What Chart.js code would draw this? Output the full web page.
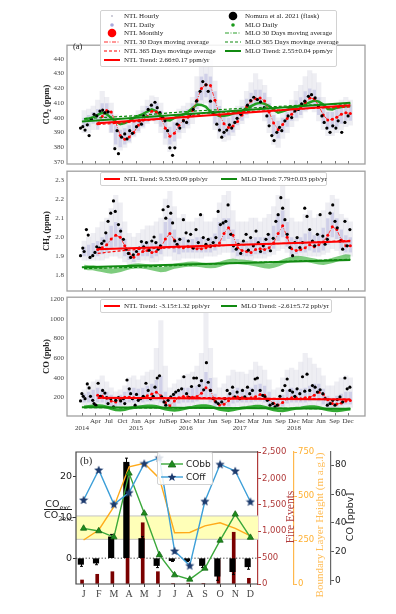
<!DOCTYPE html>
<html>
<head>
<meta charset="utf-8">
<title>NTL vs MLO greenhouse gases</title>
<script src="https://cdn.jsdelivr.net/npm/chart.js@4.4.1/dist/chart.umd.min.js"></script>
<style>
  html, body { margin: 0; padding: 0; background: #fff; }
  body { position: relative; width: 396px; height: 614px; overflow: hidden; font-family: 'Liberation Serif', 'DejaVu Serif', serif; color: #222; }
  canvas { position: absolute; left: 0; }
  .box { position: absolute; background: rgba(255,255,255,0.85); border: 1px solid #d2d2d2; border-radius: 2px; box-sizing: border-box; }
  .row { position: absolute; display: flex; align-items: center; white-space: nowrap; }
  .row svg { flex: none; margin-right: 3px; }
  .lab { position: absolute; white-space: nowrap; }
  .vlab { position: absolute; white-space: nowrap; transform: translate(-50%, -50%) rotate(-90deg); }
</style>
</head>
<body>
<canvas id="co2Chart" width="396" height="134" style="top:38px"></canvas>
<canvas id="ch4Chart" width="396" height="135" style="top:164px"></canvas>
<canvas id="coChart" width="396" height="150" style="top:290px"></canvas>
<canvas id="monthChart" width="396" height="155" style="top:445px"></canvas>

<div id="legendA" class="box" style="left:100px;top:10px;width:237px;height:57px;font-size:7px"></div>
<div id="legendCH4" class="box" style="left:100px;top:172px;width:227px;height:14px;font-size:7px"></div>
<div id="legendCO" class="box" style="left:100px;top:299px;width:232px;height:14px;font-size:7px"></div>
<div id="legendB" class="box" style="left:157px;top:452px;width:56px;height:33px;font-family:'DejaVu Sans',sans-serif;font-size:9px"></div>

<div class="lab" style="left:73px;top:41px;font-size:8.5px">(a)</div>
<div class="lab" style="left:80px;top:455px;font-size:10.5px">(b)</div>
<div class="lab" style="left:44px;top:499px;width:28px;text-align:center;font-family:'DejaVu Sans',sans-serif;font-size:9.5px;line-height:10px">
  <div style="border-bottom:1px solid #222">CO<sub style="font-size:6.5px;line-height:0">exc</sub></div>
  <div>CO<sub style="font-size:6.5px;line-height:0">2exc</sub></div>
</div>
<div class="vlab" style="left:290px;top:517px;font-size:11.5px;color:#b03a3a">Fire Events</div>
<div class="vlab" style="left:319px;top:525px;font-size:11px;color:#ffbc55">Boundary Layer Height (m a.g.l)</div>
<div class="vlab" style="left:349px;top:517px;font-family:'DejaVu Sans',sans-serif;font-size:9.5px;color:#222">CO [ppbv]</div>

<script>
// ---- shared time axis (months since Jan 2014) ----
const MONTHS = [0.5,1.5,2.5,3.5,4.5,5.5,6.5,7.5,8.5,9.5,10.5,11.5,12.5,13.5,14.5,15.5,16.5,17.5,18.5,19.5,
  20.5,21.5,22.5,23.5,24.5,25.5,26.5,27.5,28.5,29.5,30.5,31.5,32.5,33.5,34.5,35.5,36.5,37.5,38.5,39.5,
  40.5,41.5,42.5,43.5,44.5,45.5,46.5,47.5,48.5,49.5,50.5,51.5,52.5,53.5,54.5,55.5,56.5,57.5,58.5,59.5];
const X_TICKS = [0,3,6,9,12,15,18,20,23,26,29,32,35,38,41,44,47,50,53,56,59];
const X_LABELS = [['','2014'],['Apr',''],['Jul',''],['Oct',''],['Jan','2015'],['Apr',''],['Jul',''],['Sep',''],
  ['Dec','2016'],['Mar',''],['Jun',''],['Sep',''],['Dec','2017'],['Mar',''],['Jun',''],['Sep',''],
  ['Dec','2018'],['Mar',''],['Jun',''],['Sep',''],['Dec','']];
const CO2_TICKS = [370,380,390,400,410,420,430,440];
const CH4_TICKS = [1.8,1.9,2.0,2.1,2.2,2.3];
const CO_TICKS = [200,400,600,800,1000,1200];

// ---- CO2 (ppm) ----
const co2HourlyLo = [390,390,392,395,398,396,390,380,378,380,383,387, 390,393,396,398,396,390,382,377,380,386,390,393,
  396,402,408,410,402,392,386,384,385,388,392,396, 400,404,406,404,398,390,382,380,386,390,394,398,
  400,404,406,404,398,392,388,388,390,392,394,395];
const co2HourlyHi = [405,406,408,412,418,414,410,402,398,397,399,402, 405,408,412,415,414,410,404,398,402,406,408,410,
  414,428,440,446,440,425,412,405,402,404,408,412, 418,424,430,426,422,414,404,400,404,408,412,418,
  422,428,432,430,424,414,408,408,410,412,414,412];
const co2DailyLo = [394,394,396,392,396,398,390,382,380,382,384,388, 391,394,397,399,398,394,386,382,384,390,393,395,
  400,406,412,414,406,396,390,387,388,390,395,398, 402,406,408,408,404,396,388,386,390,394,398,400,
  402,405,408,407,402,396,392,393,394,396,398,398];
const co2DailyHi = [400,402,404,406,410,410,405,395,392,393,395,399, 402,405,408,410,410,405,398,394,397,402,405,406,
  410,418,428,430,428,418,408,402,400,402,405,408, 413,417,419,419,417,410,402,398,400,404,408,412,
  414,418,420,419,414,408,404,404,406,408,410,409];
const co2NtlMonthly = [null,null,null,396,401,405,404,397,388,385.5,387,390, 395,398.5,401,404.5,404,400,393,387.5,389.5,395,398.5,400.5,
  405,412,420,422.5,422,412,402,396,393.5,394.5,397.5,402, 407.5,411.5,413,413.5,411.5,404,396.5,392,395.5,399.5,402.5,405.5,
  407,410.5,413.5,413,408,402,398.5,399,400.5,402.5,403.5,403];
const co2Ntl365T = [3.5,9,15,21,27,33,39,45,51,57,59.5];
const co2Ntl365V = [395.5,396.5,398.5,400,403,404,404.5,405.5,406.5,407,407.5];
const co2NtlTrendT = [3.5,59.5];
const co2NtlTrendV = [396.3,408.5];
const co2MloDaily = [399,399.5,400.5,402,403.5,402.5,400,397.5,395.8,396.5,398,400, 401.3,402.5,404.3,405.7,404.5,401.5,398.5,398.3,400,401.2,402.3,404,
  406.5,409,408.8,407.5,404,402.5,401.3,401.5,402,403,403.8,404.6, 406.5,408,409.5,410.2,409.5,408,405.5,403.5,404.4,405.5,406.5,407.5,
  408.5,409.2,410.5,411.7,411,409,406,405.7,406.9,407.3,407.8,408];
const co2Mlo365T = [0.5,12,24,36,48,59.5];
const co2Mlo365V = [399.5,401.5,404.5,406.5,408.5,409.5];
const co2MloTrendT = [0,59.5];
const co2MloTrendV = [397.5,410.2];
const co2FlaskT = [-0.3,0.2,0.7,1.2,1.6,2.1,2.7,3.3,4,4.6,5.1,5.8,7.3,8.1,7.8,8.8,9.5,10,10.6,11.2,12.1,12.7,13.2,13.7,14.7,
  15.4,16.2,16.7,17.3,17.9,18.4,19,19.5,20.1,20.6,21.1,21.7,22.5,23.2,24,24.7,25.4,26.2,26.8,27.5,28,28.5,29.1,29.9,30.5,
  31,31.5,32.1,32.7,33.2,33.9,34.4,35.2,35.9,36.7,37.4,38.1,38.9,39.6,40.4,41,41.5,42.1,42.6,43.2,43.8,44.3,45,45.7,46.5,
  47.2,48,48.7,49.4,50.2,50.9,51.7,52.4,53.2,53.7,54.3,55,55.6,56.3,56.8,57.6,58.3,59];
const co2FlaskV = [393.1,394,391.7,395.3,388,399,402.4,401.3,404.6,405.3,403.5,404,379.1,375.7,391.3,386.9,389.1,385.7,391.3,389.5,
  394,398,395.7,401.3,405.7,408.6,410.6,406.9,403.5,400.2,398,391.3,379.7,374.6,379.7,395.7,393.1,398,396.9,402.4,
  405.7,411.3,418,424.6,422.4,418,411.3,403.5,395.7,391.7,386.9,390.2,391.7,395.3,393.1,396.9,399.7,402.4,404.6,408.6,
  411.7,414,412.4,410.9,406.9,401.3,394.6,388,384.6,390.2,393.5,391.3,398,401.3,400.2,404.6,405.7,409.5,411.3,414.6,
  415.7,413.5,408,401.3,396.9,393.1,390.2,394.6,393.1,398,390.2,396.9,401.3];

// ---- CH4 (ppm) ----
const ch4HourlyLo = [1.88,1.88,1.88,1.88,1.88,1.89,1.9,1.9,1.89,1.87,1.86,1.86, 1.87,1.88,1.88,1.87,1.87,1.88,1.9,1.9,1.88,1.88,1.89,1.89,
  1.89,1.89,1.89,1.9,1.9,1.9,1.91,1.92,1.92,1.89,1.88,1.88, 1.88,1.88,1.89,1.89,1.89,1.9,1.91,1.93,1.94,1.92,1.89,1.89,
  1.9,1.9,1.9,1.9,1.9,1.91,1.92,1.94,1.93,1.91,1.9,1.9];
const ch4HourlyHi = [1.98,2.0,2.02,2.05,2.08,2.1,2.15,2.22,2.18,2.08,2.02,2.0, 2.02,2.04,2.06,2.06,2.08,2.1,2.2,2.24,2.16,2.1,2.12,2.08,
  2.08,2.1,2.12,2.08,2.08,2.1,2.18,2.22,2.24,2.14,2.08,2.08, 2.08,2.1,2.1,2.08,2.1,2.12,2.16,2.22,2.28,2.2,2.1,2.08,
  2.08,2.12,2.14,2.1,2.12,2.14,2.18,2.22,2.2,2.12,2.1,2.08];
const ch4DailyLo = [1.9,1.9,1.9,1.9,1.91,1.92,1.94,1.95,1.93,1.9,1.88,1.87, 1.88,1.9,1.9,1.89,1.9,1.91,1.94,1.95,1.92,1.91,1.92,1.92,
  1.92,1.92,1.92,1.92,1.92,1.93,1.95,1.98,1.99,1.92,1.9,1.9, 1.9,1.9,1.91,1.91,1.91,1.92,1.94,1.98,2.0,1.95,1.91,1.91,
  1.92,1.92,1.93,1.92,1.92,1.93,1.96,2.0,1.99,1.94,1.92,1.92];
const ch4DailyHi = [1.95,1.96,1.97,1.98,2.0,2.02,2.06,2.08,2.05,1.99,1.95,1.93, 1.95,1.97,1.98,1.97,1.98,2.02,2.08,2.1,2.04,2.0,2.0,1.99,
  1.99,2.0,2.0,1.99,2.0,2.02,2.08,2.1,2.1,2.04,1.99,1.98, 1.98,1.99,2.0,2.0,2.0,2.02,2.06,2.12,2.14,2.08,2.0,1.99,
  2.0,2.02,2.03,2.01,2.02,2.05,2.1,2.13,2.1,2.04,2.01,2.0];
const ch4NtlMonthly = [null,null,null,1.935,1.945,1.96,1.99,2.01,2.0,1.955,1.915,1.895, 1.91,1.925,1.93,1.92,1.925,1.945,1.99,2.02,1.985,1.95,1.945,1.95,
  1.945,1.94,1.94,1.945,1.95,1.955,1.97,2.02,2.05,2.01,1.945,1.93, 1.925,1.92,1.935,1.94,1.935,1.945,1.97,2.02,2.06,2.0,1.94,1.93,
  1.935,1.945,1.96,1.95,1.96,1.975,2.01,2.055,2.04,1.985,1.955,1.955];
const ch4Ntl365T = [3.5,9,15,21,27,33,39,45,51,57,59.5];
const ch4Ntl365V = [1.915,1.93,1.94,1.945,1.95,1.958,1.962,1.968,1.974,1.98,1.983];
const ch4NtlTrendT = [3.5,59.5];
const ch4NtlTrendV = [1.937,1.979];
const ch4MloDaily = [1.842,1.84,1.84,1.835,1.83,1.825,1.822,1.825,1.83,1.838,1.845,1.848, 1.85,1.848,1.845,1.84,1.835,1.83,1.832,1.84,1.848,1.852,1.855,1.858,
  1.86,1.858,1.855,1.852,1.85,1.852,1.858,1.865,1.872,1.875,1.872,1.87, 1.868,1.865,1.86,1.855,1.85,1.848,1.852,1.86,1.87,1.878,1.885,1.89,
  1.888,1.885,1.88,1.875,1.87,1.868,1.872,1.878,1.885,1.892,1.897,1.895];
const ch4Mlo365T = [0.5,12,24,36,48,59.5];
const ch4Mlo365V = [1.836,1.842,1.855,1.866,1.875,1.884];
const ch4MloTrendT = [0,59.5];
const ch4MloTrendV = [1.843,1.881];
const ch4FlaskT = [-0.3,0.2,0.5,1,1.4,1.8,2.4,2.9,3.3,3.9,4.4,4.9,5.3,5.8,6.4,7,7.4,8.1,8.6,9.2,9.8,10.3,10.8,11.4,12.1,
  12.7,13.2,13.7,14.3,14.9,15.5,16,16.4,16.9,17.4,18,18.6,19.1,19.7,20.1,20.6,21.1,21.7,22.5,23.1,23.6,24.1,24.7,25.3,25.8,
  26.3,26.9,27.5,28,28.5,29.1,29.7,30.2,30.7,31.3,31.9,32.4,33,33.6,34.2,34.7,35.2,35.8,36.4,36.9,37.4,38,38.6,39.1,39.6,
  40.2,40.8,41.3,41.8,42.4,43,43.5,44.1,44.5,45,45.5,46.1,46.7,47.2,47.7,48.3,48.9,49.4,49.9,50.5,51.1,51.6,52.2,52.8,53.4,
  53.9,54.4,55,55.6,56.1,56.6,57.2,57.8,58.3,58.8,59.4];
const ch4FlaskV = [1.903,1.943,1.925,2.04,2.011,1.894,1.903,1.92,1.95,1.943,1.967,1.98,2.023,2.083,2.126,2.19,2.135,2.066,2.032,1.989,
  1.937,1.915,1.894,1.908,1.925,1.943,1.977,1.95,1.972,1.932,1.98,2.001,1.972,1.937,1.955,2.144,2.1,2.161,2.126,2.075,
  1.98,1.963,1.989,2.092,2.023,1.98,2.015,1.943,2.04,1.972,2.118,1.998,1.963,1.989,1.955,1.972,1.998,2.135,2.066,2.075,
  2.083,2.169,2.015,1.955,1.937,1.963,1.915,1.98,2.015,1.932,1.998,1.955,2.032,1.972,1.925,1.955,1.989,2.015,1.929,1.994,
  2.083,2.118,2.207,2.152,2.092,2.015,1.946,1.903,1.972,1.998,1.946,1.972,2.152,2.109,2.04,1.98,1.955,2.015,2.118,2.006,
  1.963,1.989,2.126,2.169,2.083,2.049,1.98,1.937,2.083,1.955,2.04];

// ---- CO (ppb) ----
const coHourlyLo = [120,110,100,100,110,100,90,80,90,100,110,110, 110,110,120,120,120,110,90,80,90,100,110,110,
  110,120,130,130,110,90,80,80,90,100,110,110, 110,110,120,120,110,90,80,80,90,110,110,110,
  110,110,120,120,110,100,80,80,90,100,100,100];
const coHourlyHi = [280,320,360,380,420,360,300,260,280,320,400,420, 380,420,460,480,700,980,520,300,340,380,420,440,
  460,520,650,1060,700,400,300,340,420,480,460,460, 440,480,560,520,480,380,280,300,400,480,500,480,
  560,650,600,540,500,420,320,320,360,400,420,400];
const coDailyLo = [150,150,150,150,150,130,110,100,120,140,150,150, 150,150,160,160,170,150,100,90,110,140,150,150,
  150,160,180,200,150,100,90,90,110,140,150,150, 150,150,160,160,150,120,100,90,110,140,150,150,
  150,150,160,170,160,130,100,100,110,120,130,130];
const coDailyHi = [240,260,280,300,290,260,230,210,230,260,300,300, 290,300,320,340,380,420,260,200,240,270,300,300,
  300,320,380,460,400,240,180,200,240,280,300,290, 280,300,330,340,320,260,190,180,230,280,300,290,
  290,300,320,340,340,290,220,200,220,240,260,260];
const coNtlMonthly = [null,null,null,225,215,195,165,155,180,205,205,200, 190,198,220,238,255,220,150,118,165,198,212,208,
  205,212,245,300,275,165,125,132,168,198,207,200, 192,200,210,232,225,180,142,125,150,188,200,198,
  190,200,205,225,255,235,178,140,135,145,165,172];
const coNtl365T = [3.5,12,24,36,48,59.5];
const coNtl365V = [192,196,203,196,190,184];
const coNtlTrendT = [3.5,59.5];
const coNtlTrendV = [198,181];
const coMloDaily = [105,110,115,118,115,105,90,78,74,80,92,100, 105,110,115,116,110,98,85,76,72,78,88,98,
  104,112,118,118,110,96,82,74,70,76,88,96, 100,106,112,112,104,90,78,70,68,74,84,92,
  96,102,108,108,100,88,76,70,68,72,80,86];
const coMlo365T = [0.5,12,24,36,48,59.5];
const coMlo365V = [98,97,96,93,90,88];
const coMloTrendT = [0,59.5];
const coMloTrendV = [103,87];
const coFlaskT = [-0.3,0,0.3,0.7,1.2,1.6,1.9,2.4,2.7,3.1,3.6,4.1,4.6,5.1,5.5,5.8,6.4,7,7.5,8.1,8.6,9.2,9.5,10,10.5,
  10.8,11.2,11.8,12.1,12.5,13,13.6,14.2,14.7,15.2,15.8,16.2,16.7,17.2,17.7,18.2,18.6,19.1,19.7,20.3,20.8,21.4,22.1,22.6,23.2,
  23.8,24.3,24.8,25.4,26,26.5,27,27.6,28,28.5,29.1,29.7,30.2,31,31.7,32.2,32.8,33.4,33.9,34.4,35,35.6,36.1,36.7,37.2,
  37.8,38.4,38.9,39.5,40.1,40.6,41.1,41.7,42.3,42.8,43.3,43.9,44.5,45,45.5,46.1,46.7,47.2,47.7,48.3,48.9,49.4,49.9,50.5,51.1,
  51.7,52.2,52.8,53.4,53.9,54.4,55,55.6,56.1,56.6,57.2,57.8,58.3,58.8,59.4];
const coFlaskV = [167,240,213,190,339,299,213,173,140,124,346,213,273,246,200,140,190,107,173,200,167,190,140,379,289,
  240,190,124,233,173,190,213,346,273,190,213,306,399,422,207,157,124,173,207,233,256,273,289,412,240,
  200,313,399,399,322,372,279,554,356,273,190,157,140,157,190,273,240,306,207,256,190,273,207,306,240,
  273,389,399,273,223,207,173,124,140,107,124,213,273,322,389,273,256,213,289,240,412,266,438,273,322,
  306,256,279,240,190,124,140,173,124,180,207,157,399,289,306];

// ---- panel (b): monthly climatology ----
const MONTH_LABELS = ['J','F','M','A','M','J','J','A','S','O','N','D'];
const ratioVals = [-1.5,-1.2,5.2,23.4,4.8,-1.8,-0.6,-0.6,-1.8,-4.4,-3.3,-2.1];
const ratioErr = [0.5,0.4,0.6,1.0,0.5,0.5,0.2,0.2,0.5,1.0,0.7,0.6];
const fireEvents = [76,184,233,2250,1160,233,10,15,8,460,980,108];
const blhHeight = [250,307,439,666,686,600,291,293,330,348,316,274];
const coBB = [36.3,34.5,30.3,74.3,46.7,18,4.1,1.1,8.7,28,46,30];
const coFF = [55.9,76.6,52.9,61,81,85,20.7,10.6,55,80.5,75.9,54.7];
const bandRange = [4.6, 10.3];

const SERIF = "'Liberation Serif', 'DejaVu Serif', serif";
const SANS = "'DejaVu Sans', sans-serif";
const X_MIN = -3.3, X_MAX = 62.75;
const FIRE_SHIFT = 0.2;

function pts(xs, ys) {
  return xs.map((x, i) => ({ x: x, y: ys[i] })).filter(p => p.y !== null);
}
function ranges(xs, lo, hi) {
  return xs.map((x, i) => ({ x: x, y: [lo[i], hi[i]] }));
}

// frame + inward ticks like the matplotlib original
const timeFrame = {
  id: 'timeFrame',
  afterDatasetsDraw(chart) {
    const { ctx, chartArea: a, scales } = chart;
    ctx.save();
    ctx.strokeStyle = '#555';
    ctx.lineWidth = 0.8;
    X_TICKS.forEach(v => {
      const px = Math.round(scales.x.getPixelForValue(v)) + 0.5;
      ctx.beginPath();
      ctx.moveTo(px, a.bottom);
      ctx.lineTo(px, a.bottom - 3);
      ctx.stroke();
    });
    ctx.strokeStyle = '#a0a0a0';
    ctx.lineWidth = 1.3;
    ctx.strokeRect(a.left, a.top, a.right - a.left, a.bottom - a.top);
    ctx.restore();
  }
};

function timeChart(id, g) {
  return new Chart(document.getElementById(id), {
    type: 'line',
    data: {
      datasets: [
        { type: 'bar', data: ranges(MONTHS, g.hourlyLo, g.hourlyHi), backgroundColor: 'rgba(205,205,222,0.35)',
          grouped: false, barPercentage: 1, categoryPercentage: 1, order: 10 },
        { type: 'bar', data: ranges(MONTHS, g.dailyLo, g.dailyHi), backgroundColor: 'rgba(130,130,205,0.28)',
          grouped: false, barPercentage: 0.75, categoryPercentage: 1, order: 9 },
        { data: pts(MONTHS, g.mlo), borderColor: g.mloColor, borderWidth: g.mloWidth, pointRadius: 0, order: 6 },
        { data: pts(MONTHS, g.ntlMonthly), borderColor: '#ff2a2a', borderWidth: 0.9, borderDash: [4, 1.5, 1, 1.5],
          pointRadius: 1.5, pointBackgroundColor: '#ff0000', pointBorderWidth: 0, order: 5 },
        { data: pts(g.flaskT, g.flaskV), showLine: false, pointRadius: 1.6, pointBackgroundColor: '#000',
          pointBorderWidth: 0, order: 4 },
        { data: pts(g.ntl365T, g.ntl365V), borderColor: '#ff0000', borderWidth: 1.2, borderDash: [3, 2], pointRadius: 0, order: 3 },
        { data: pts(g.mlo365T, g.mlo365V), borderColor: '#0a8a0a', borderWidth: 1.2, borderDash: [3, 2], pointRadius: 0, order: 3 },
        { data: pts(g.mloTrendT, g.mloTrendV), borderColor: '#118a11', borderWidth: 2, pointRadius: 0, order: 2 },
        { data: pts(g.ntlTrendT, g.ntlTrendV), borderColor: '#ff0000', borderWidth: 2, pointRadius: 0, order: 1 }
      ]
    },
    options: {
      responsive: false,
      animation: false,
      layout: { padding: { top: 5, right: 31, left: 0, bottom: 0 } },
      plugins: { legend: { display: false }, tooltip: { enabled: false } },
      scales: {
        x: {
          type: 'linear', min: X_MIN, max: X_MAX, offset: false,
          afterBuildTicks: s => { s.ticks = X_TICKS.map(v => ({ value: v })); },
          afterFit: s => { s.height = g.xHeight; },
          grid: { display: false, drawTicks: false },
          border: { display: false },
          ticks: { display: g.showX, autoSkip: false, maxRotation: 0, padding: 2, color: '#333',
            font: { family: SERIF, size: 7, lineHeight: 1 }, callback: (v, i) => X_LABELS[i] }
        },
        y: {
          min: g.yMin, max: g.yMax,
          afterBuildTicks: s => { s.ticks = g.yTicks.map(v => ({ value: v })); },
          afterFit: s => { s.width = 67; },
          grid: { display: false, drawTicks: false },
          border: { display: false },
          ticks: { padding: 3, color: '#444', font: { family: SERIF, size: 7 }, callback: g.yFmt },
          title: { display: true, text: g.yTitle, color: '#222',
            font: { family: SERIF, size: 8.5, weight: 'bold' }, padding: { top: 42, bottom: 0 } }
        }
      }
    },
    plugins: [timeFrame]
  });
}

timeChart('co2Chart', {
  hourlyLo: co2HourlyLo, hourlyHi: co2HourlyHi, dailyLo: co2DailyLo, dailyHi: co2DailyHi,
  ntlMonthly: co2NtlMonthly, ntl365T: co2Ntl365T, ntl365V: co2Ntl365V, ntlTrendT: co2NtlTrendT, ntlTrendV: co2NtlTrendV,
  mlo: co2MloDaily, mlo365T: co2Mlo365T, mlo365V: co2Mlo365V, mloTrendT: co2MloTrendT, mloTrendV: co2MloTrendV,
  flaskT: co2FlaskT, flaskV: co2FlaskV, mloColor: '#22a022', mloWidth: 2.5,
  yMin: 368.7, yMax: 449.3, yTicks: CO2_TICKS, yFmt: v => v.toFixed(0), yTitle: 'CO\u2082 (ppm)', showX: false, xHeight: 8
});
timeChart('ch4Chart', {
  hourlyLo: ch4HourlyLo, hourlyHi: ch4HourlyHi, dailyLo: ch4DailyLo, dailyHi: ch4DailyHi,
  ntlMonthly: ch4NtlMonthly, ntl365T: ch4Ntl365T, ntl365V: ch4Ntl365V, ntlTrendT: ch4NtlTrendT, ntlTrendV: ch4NtlTrendV,
  mlo: ch4MloDaily, mlo365T: ch4Mlo365T, mlo365V: ch4Mlo365V, mloTrendT: ch4MloTrendT, mloTrendV: ch4MloTrendV,
  flaskT: ch4FlaskT, flaskV: ch4FlaskV, mloColor: 'rgba(40,170,40,0.6)', mloWidth: 5,
  yMin: 1.718, yMax: 2.346, yTicks: CH4_TICKS, yFmt: v => v.toFixed(1), yTitle: 'CH\u2084 (ppm)', showX: false, xHeight: 8
});
timeChart('coChart', {
  hourlyLo: coHourlyLo, hourlyHi: coHourlyHi, dailyLo: coDailyLo, dailyHi: coDailyHi,
  ntlMonthly: coNtlMonthly, ntl365T: coNtl365T, ntl365V: coNtl365V, ntlTrendT: coNtlTrendT, ntlTrendV: coNtlTrendV,
  mlo: coMloDaily, mlo365T: coMlo365T, mlo365V: coMlo365V, mloTrendT: coMloTrendT, mloTrendV: coMloTrendV,
  flaskT: coFlaskT, flaskV: coFlaskV, mloColor: '#33aa33', mloWidth: 3,
  yMin: 14, yMax: 1218, yTicks: CO_TICKS, yFmt: v => v.toFixed(0), yTitle: 'CO (ppb)', showX: true, xHeight: 24
});

// ---- legends for panel (a) ----
function swatch(kind, color) {
  let s = '';
  if (kind === 'tiny') s = `<circle cx="9" cy="4" r="0.9" fill="${color}"/>`;
  else if (kind === 'dot') s = `<circle cx="9" cy="4" r="1.8" fill="${color}"/>`;
  else if (kind === 'big') s = `<circle cx="9" cy="4" r="4.3" fill="${color}"/>`;
  else {
    const dash = kind === 'dashdot' ? '4 1.5 1 1.5' : kind === 'dash' ? '3 2' : '';
    const sw = kind === 'solid' ? 2 : 1.2;
    s = `<line x1="1" y1="4" x2="17" y2="4" stroke="${color}" stroke-width="${sw}"${dash ? ` stroke-dasharray="${dash}"` : ''}/>`;
  }
  return `<svg width="18" height="8" style="overflow:visible">${s}</svg>`;
}
function fillLegend(el, items, rowH, top0) {
  el.innerHTML = items.map(it =>
    `<div class="row" style="left:${it.left}px;top:${top0 + it.row * rowH}px;height:${rowH}px">${swatch(it.kind, it.color)}<span>${it.text}</span></div>`
  ).join('');
}
fillLegend(document.getElementById('legendA'), [
  { left: 2, row: 0, kind: 'tiny', color: '#b8b8c8', text: 'NTL Hourly' },
  { left: 2, row: 1, kind: 'dot', color: '#a8a8dc', text: 'NTL Daily' },
  { left: 2, row: 2, kind: 'big', color: '#ff0000', text: 'NTL Monthly' },
  { left: 2, row: 3, kind: 'dashdot', color: '#ff3030', text: 'NTL 30 Days moving average' },
  { left: 2, row: 4, kind: 'dash', color: '#ff0000', text: 'NTL 365 Days movinge average' },
  { left: 2, row: 5, kind: 'solid', color: '#ff0000', text: 'NTL Trend: 2.66\u00b10.17 ppm/yr' },
  { left: 123, row: 0, kind: 'big', color: '#000', text: 'Nomura et al. 2021 (flask)' },
  { left: 123, row: 1, kind: 'dot', color: '#1a9a1a', text: 'MLO Daily' },
  { left: 123, row: 2, kind: 'dashdot', color: '#2aa02a', text: 'MLO 30 Days moving average' },
  { left: 123, row: 3, kind: 'dash', color: '#118a11', text: 'MLO 365 Days movinge average' },
  { left: 123, row: 4, kind: 'solid', color: '#118a11', text: 'MLO Trend: 2.55\u00b10.04 ppm/yr' }
], 8.8, 0.5);
fillLegend(document.getElementById('legendCH4'), [
  { left: 2, row: 0, kind: 'solid', color: '#ff0000', text: 'NTL Trend: 9.53\u00b10.09 ppb/yr' },
  { left: 119, row: 0, kind: 'solid', color: '#118a11', text: 'MLO Trend: 7.79\u00b10.03 ppb/yr' }
], 12, 0);
fillLegend(document.getElementById('legendCO'), [
  { left: 2, row: 0, kind: 'solid', color: '#ff0000', text: 'NTL Trend: -3.15\u00b11.32 ppb/yr' },
  { left: 119, row: 0, kind: 'solid', color: '#118a11', text: 'MLO Trend: -2.61\u00b15.72 ppb/yr' }
], 12, 0);

// ---- panel (b) ----
function starPoints(cx, cy, R, r) {
  const p = [];
  for (let k = 0; k < 10; k++) {
    const a = -Math.PI / 2 + k * Math.PI / 5;
    const rr = k % 2 ? r : R;
    p.push([cx + rr * Math.cos(a), cy + rr * Math.sin(a)]);
  }
  return p;
}
const starImg = document.createElement('canvas');
starImg.width = 10; starImg.height = 10;
(function () {
  const g = starImg.getContext('2d');
  g.beginPath();
  starPoints(5, 5.3, 4.8, 2.1).forEach(([x, y]) => g.lineTo(x, y));
  g.closePath();
  g.fillStyle = '#1d3b6e';
  g.fill();
})();

const monthDecor = {
  id: 'monthDecor',
  beforeDatasetsDraw(chart) {
    const { ctx, chartArea: a, scales } = chart;
    const r = scales.ratio;
    const yTop = r.getPixelForValue(bandRange[1]);
    const yBot = r.getPixelForValue(bandRange[0]);
    ctx.save();
    ctx.fillStyle = '#ffffb8';
    ctx.fillRect(a.left, yTop, a.right - a.left, yBot - yTop);
    ctx.strokeStyle = '#c4c4c4';
    ctx.lineWidth = 1;
    [yTop, yBot].forEach(y => {
      ctx.beginPath(); ctx.moveTo(a.left, y); ctx.lineTo(a.right, y); ctx.stroke();
    });
    const y0 = r.getPixelForValue(0);
    ctx.strokeStyle = '#333';
    ctx.setLineDash([1.2, 2]);
    ctx.beginPath(); ctx.moveTo(a.left, y0); ctx.lineTo(a.right, y0); ctx.stroke();
    ctx.restore();
  },
  afterDatasetDraw(chart, args) {
    if (args.index !== 3) return;
    const { ctx, scales } = chart;
    const meta = chart.getDatasetMeta(3);
    ctx.save();
    ctx.strokeStyle = '#000';
    ctx.lineWidth = 1;
    meta.data.forEach((bar, i) => {
      const x = Math.round(bar.x) + 0.5;
      const y1 = scales.ratio.getPixelForValue(ratioVals[i] - ratioErr[i]);
      const y2 = scales.ratio.getPixelForValue(ratioVals[i] + ratioErr[i]);
      ctx.beginPath();
      ctx.moveTo(x, y1); ctx.lineTo(x, y2);
      ctx.moveTo(x - 1.5, y1); ctx.lineTo(x + 1.5, y1);
      ctx.moveTo(x - 1.5, y2); ctx.lineTo(x + 1.5, y2);
      ctx.stroke();
    });
    ctx.restore();
  },
  afterDraw(chart) {
    const { ctx, chartArea: a } = chart;
    ctx.save();
    ctx.strokeStyle = '#444';
    ctx.lineWidth = 1.2;
    ctx.beginPath();
    ctx.moveTo(a.right, a.top); ctx.lineTo(a.left, a.top);
    ctx.lineTo(a.left, a.bottom); ctx.lineTo(a.right, a.bottom);
    ctx.stroke();
    ctx.restore();
  }
};

new Chart(document.getElementById('monthChart'), {
  type: 'bar',
  data: {
    labels: MONTH_LABELS,
    datasets: [
      { type: 'line', label: 'COff', data: coFF, xAxisID: 'x', yAxisID: 'co', borderColor: '#3d9fd8', borderWidth: 1.4,
        pointStyle: starImg, pointRadius: 4, order: 0 },
      { type: 'line', label: 'CObb', data: coBB, xAxisID: 'x', yAxisID: 'co', borderColor: '#3aa83a', borderWidth: 1.4,
        pointStyle: 'triangle', pointRadius: 3.6, pointBackgroundColor: '#1e8c1e', pointBorderColor: '#146614',
        pointBorderWidth: 0.8, order: 1 },
      { type: 'line', label: 'BLH', data: blhHeight, xAxisID: 'x', yAxisID: 'blh', borderColor: '#ffaa1a',
        borderWidth: 1.4, pointRadius: 0, order: 2 },
      { label: 'ratio', data: ratioVals, xAxisID: 'x', yAxisID: 'ratio', backgroundColor: '#000', barThickness: 5.5, order: 3 },
      { label: 'fire', data: fireEvents.map((v, i) => ({ x: i, y: v })), xAxisID: 'xFire', yAxisID: 'fire',
        backgroundColor: '#7a0000', barThickness: 3, order: 4 }
    ]
  },
  options: {
    responsive: false,
    animation: false,
    layout: { padding: { top: 7, right: 25, left: 0, bottom: 0 } },
    plugins: { legend: { display: false }, tooltip: { enabled: false } },
    scales: {
      x: {
        type: 'category', offset: true,
        afterFit: s => { s.height = 16; },
        grid: { offset: false, drawOnChartArea: false, tickLength: 3, color: '#444' },
        border: { display: false },
        ticks: { padding: 1, color: '#444', font: { family: SERIF, size: 10 } }
      },
      xFire: { type: 'linear', display: false, offset: false, min: -0.5 + FIRE_SHIFT, max: 11.5 + FIRE_SHIFT },
      ratio: {
        position: 'left', min: -6.3, max: 25.9, beginAtZero: false,
        afterFit: s => { s.width = 76; },
        grid: { drawOnChartArea: false, tickLength: 3, color: '#333' },
        border: { display: false },
        ticks: { stepSize: 10, includeBounds: false, padding: 1, color: '#222', font: { family: SANS, size: 9.5 } }
      },
      fire: {
        position: 'right', weight: 1, min: 0, max: 2500,
        afterFit: s => { s.width = 36; },
        grid: { drawOnChartArea: false, tickLength: 3, color: '#b03a3a' },
        border: { color: '#b03a3a', width: 1.2 },
        ticks: { stepSize: 500, padding: 1, color: '#b03a3a', font: { family: SANS, size: 8.5 } }
      },
      blh: {
        position: 'right', weight: 2, min: 0, max: 750,
        afterFit: s => { s.width = 37; },
        grid: { drawOnChartArea: false, tickLength: 3, color: '#ffb84d' },
        border: { color: '#ffb84d', width: 1.2 },
        ticks: { stepSize: 250, padding: 1, color: '#ffb030', font: { family: SANS, size: 8.5 } }
      },
      co: {
        position: 'right', weight: 3, min: -2.1, max: 89, beginAtZero: false,
        afterFit: s => { s.width = 40; },
        grid: { drawOnChartArea: false, tickLength: 3, color: '#555' },
        border: { color: '#666', width: 1.2 },
        ticks: { stepSize: 20, includeBounds: false, padding: 1, color: '#222', font: { family: SANS, size: 9 } }
      }
    }
  },
  plugins: [monthDecor]
});

// legend for panel (b)
(function () {
  const tri = '<polygon points="11,0.5 14.8,7 7.2,7" fill="#1e8c1e" stroke="#146614" stroke-width="0.8"/>';
  const star = `<polygon points="${starPoints(11, 4.3, 4.6, 2).map(p => p.join(',')).join(' ')}" fill="#1d3b6e"/>`;
  const mk = (color, marker) =>
    `<svg width="22" height="8" style="overflow:visible"><line x1="0" y1="4" x2="22" y2="4" stroke="${color}" stroke-width="1.4"/>${marker}</svg>`;
  document.getElementById('legendB').innerHTML =
    `<div class="row" style="left:3px;top:5px;height:12px">${mk('#3aa83a', tri)}<span>CObb</span></div>` +
    `<div class="row" style="left:3px;top:18px;height:12px">${mk('#3d9fd8', star)}<span>COff</span></div>`;
})();
</script>
</body>
</html>
